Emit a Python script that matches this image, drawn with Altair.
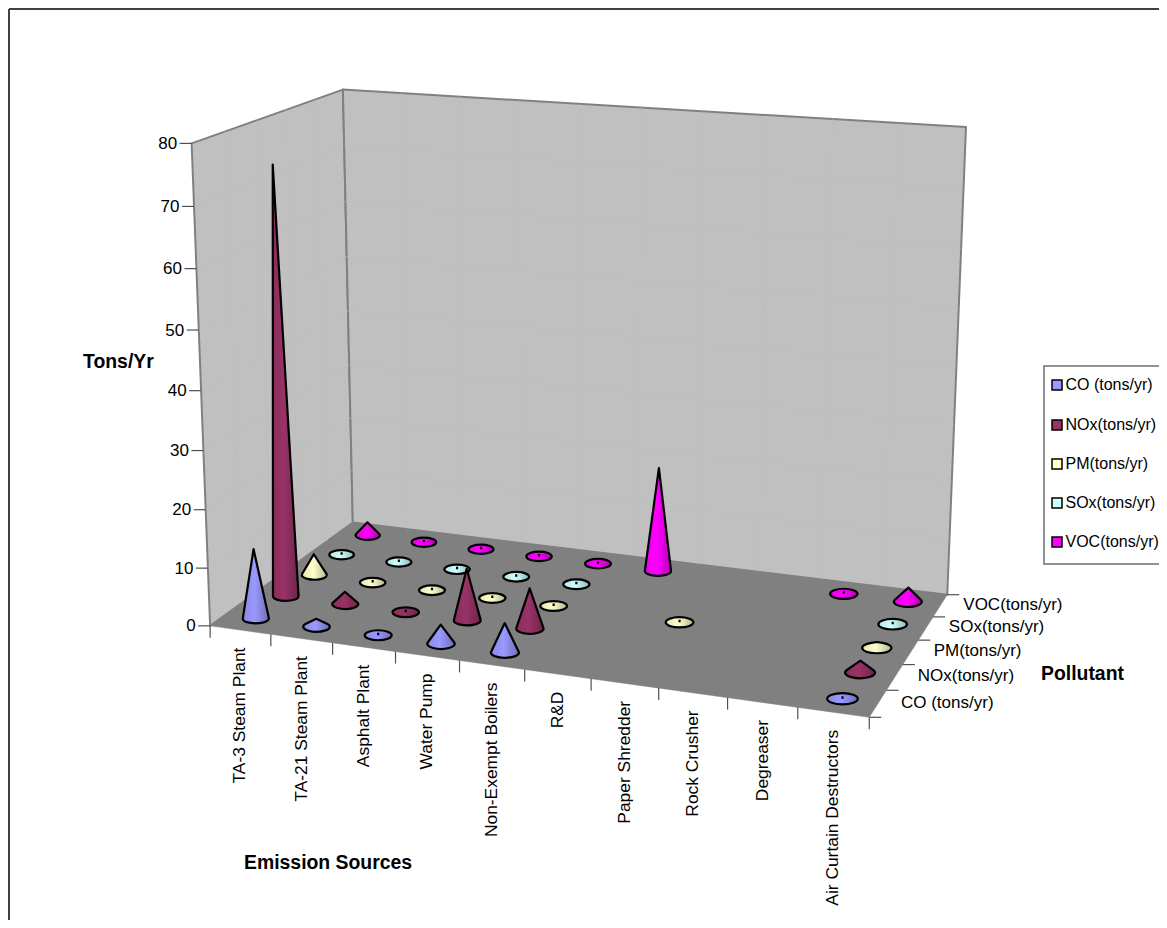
import math
import numpy as np
import pandas as pd
import altair as alt

sources = ["TA-3 Steam Plant", "TA-21 Steam Plant", "Asphalt Plant", "Water Pump",
           "Non-Exempt Boilers", "R&D", "Paper Shredder", "Rock Crusher", "Degreaser",
           "Air Curtain Destructors"]
pollutants = ["CO (tons/yr)", "NOx(tons/yr)", "PM(tons/yr)", "SOx(tons/yr)", "VOC(tons/yr)"]
legend_names = pollutants
colors = ["#9999FF", "#993366", "#FFFFCC", "#CCFFFF", "#FF00FF"]

co = [12.1, 1.4, 0.1, 3.3, 5.0, None, None, None, None, 0.2]
nox = [74.0, 2.2, 0.1, 9.0, 7.0, None, None, None, None, 2.0]
pm = [3.8, 0.1, 0.1, 0.1, 0.1, None, 0.1, None, None, 1.0]
sox = [0.1, 0.1, 0.1, 0.1, 0.1, None, None, None, None, 0.1]
voc = [2.5, 0.1, 0.1, 0.1, 0.1, 18.7, None, None, 0.1, 2.5]
series = [co, nox, pm, sox, voc]

value_ticks = [0, 10, 20, 30, 40, 50, 60, 70, 80]

# camera: box corners (category, pollutant, value) -> screen pixel
box_corners = [((0, 0, 0), (210.5, 626.5)), ((10, 0, 0), (869, 717)), ((10, 5, 0), (947.5, 595)),
               ((0, 5, 0), (352.5, 522)), ((0, 0, 80), (191.5, 143)), ((0, 5, 80), (343, 90)),
               ((10, 5, 80), (966, 127))]
A = []
for (c, s, v), (u, w) in box_corners:
    A.append([c, s, v, 1, 0, 0, 0, 0, -u * c, -u * s, -u * v, -u])
    A.append([0, 0, 0, 0, c, s, v, 1, -w * c, -w * s, -w * v, -w])
CAM = np.linalg.svd(np.array(A, float))[2][-1].reshape(3, 4)


def P(c, s, v=0):
    q = CAM @ np.array([c, s, v, 1.0])
    return float(q[0] / q[2]), float(q[1] / q[2])


W, H = 1151, 912
xs = alt.Scale(domain=[8, 8 + W], nice=False, zero=False)
ys = alt.Scale(domain=[8 + H, 8], nice=False, zero=False)
X = alt.X("x:Q", scale=xs, axis=None)
Y = alt.Y("y:Q", scale=ys, axis=None)
FONT = "Liberation Sans"


def poly(points, fill, stroke, sw):
    x0, y0 = points[0]
    d = "M0 0 " + " ".join(f"L{x - x0:.2f} {y - y0:.2f}" for x, y in points[1:]) + " Z"
    return alt.Chart(pd.DataFrame([{"x": x0, "y": y0, "p": d}])).mark_point(
        filled=True, fill=fill, stroke=stroke, strokeWidth=sw, opacity=1, strokeJoin="round"
    ).encode(x=X, y=Y, shape=alt.Shape("p:N", scale=None), size=alt.value(4))


def segs(rows, color, width):
    df = pd.DataFrame([{"x": a[0], "y": a[1], "x2": b[0], "y2": b[1]} for a, b in rows])
    return alt.Chart(df).mark_rule(color=color, strokeWidth=width).encode(
        x=X, y=Y, x2="x2:Q", y2="y2:Q")


def text(rows, size=17, bold=False, **kw):
    return alt.Chart(pd.DataFrame(rows)).mark_text(
        font=FONT, fontSize=size, fontWeight="bold" if bold else "normal", color="#000000", **kw
    ).encode(x=X, y=Y, text="t:N")


def cone_path(c, s, v):
    bx, by = P(c, s, 0)
    ax, ay = P(c, s, v)
    ax, ay = ax - bx, ay - by
    l0 = P(c - 0.5, s, 0)
    r0 = P(c + 0.5, s, 0)
    rx = 0.215 * math.hypot(r0[0] - l0[0], r0[1] - l0[1])
    ry = 0.37 * rx
    cy = ay * rx / ry
    d = math.hypot(ax, cy)
    if d <= rx * 1.02:
        ay = min(ay, -2.5)
        return (bx, by, f"M{-rx:.2f} 0 A{rx:.2f} {ry:.2f} 0 1 1 {rx:.2f} 0 "
                        f"A{rx:.2f} {ry:.2f} 0 1 1 {-rx:.2f} 0 Z M0 0 L{ax:.2f} {ay:.2f}")
    a = math.atan2(cy, ax)
    b = math.acos(rx / d)
    x1, y1 = rx * math.cos(a - b), ry * math.sin(a - b)
    x2, y2 = rx * math.cos(a + b), ry * math.sin(a + b)
    return (bx, by, f"M{x1:.2f} {y1:.2f} L{ax:.2f} {ay:.2f} L{x2:.2f} {y2:.2f} "
                    f"A{rx:.2f} {ry:.2f} 0 1 1 {x1:.2f} {y1:.2f} Z")


def shade(hexcolor, f):
    r, g, b = [int(hexcolor[i:i + 2], 16) for i in (1, 3, 5)]
    return f"#{int(r * f):02x}{int(g * f):02x}{int(b * f):02x}"


layers = []
# frame
layers.append(segs([((9, 9), (9, 8 + H)), ((9, 9), (8 + W, 9))], "#404040", 2))
# walls and floor
layers.append(poly([P(0, 0, 0), P(0, 5, 0), P(0, 5, 80), P(0, 0, 80)], "#C0C0C0", "#808080", 2))
layers.append(poly([P(0, 5, 0), P(10, 5, 0), P(10, 5, 80), P(0, 5, 80)], "#C0C0C0", "#808080", 2))
layers.append(poly([P(0, 0, 0), P(10, 0, 0), P(10, 5, 0), P(0, 5, 0)], "#808080", "#808080", 0.5))
# faint grid
grid = []
for v in value_ticks[1:-1]:
    grid += [(P(0, 0, v), P(0, 5, v)), (P(0, 5, v), P(10, 5, v))]
for c in range(1, 10):
    grid.append((P(c, 5, 0), P(c, 5, 80)))
for s in range(1, 5):
    grid.append((P(0, s, 0), P(0, s, 80)))
layers.append(segs(grid, "#BCBCBC", 0.6))
fgrid = [(P(c, 0), P(c, 5)) for c in range(1, 10)] + [(P(0, s), P(10, s)) for s in range(1, 5)]
layers.append(segs(fgrid, "#848484", 0.6))

# ticks
ticks = []
for v in value_ticks:
    p = P(0, 0, v)
    ticks.append((p, (p[0] - 12, p[1])))
for c in range(0, 11):
    p = P(c, 0)
    ticks.append((p, (p[0], p[1] + 12)))
for s in range(0, 6):
    p = P(10, s)
    ticks.append((p, (p[0] + 12, p[1])))
layers.append(segs(ticks, "#505050", 1.2))

# axis labels
layers.append(text([{"x": P(0, 0, v)[0] - 14.5, "y": P(0, 0, v)[1] + 0.5, "t": str(v)} for v in value_ticks],
                   align="right", baseline="middle"))
layers.append(text([{"x": P(i + 0.5, 0)[0], "y": P(i + 0.5, 0)[1] + 17.5, "t": n} for i, n in enumerate(sources)],
                   size=17.4, align="right", baseline="middle", angle=270))
layers.append(text([{"x": P(10, i + 0.5)[0] + 23, "y": P(10, i + 0.5)[1] - 1, "t": n} for i, n in enumerate(pollutants)],
                   align="left", baseline="middle"))
# titles
layers.append(text([{"x": 83, "y": 362, "t": "Tons/Yr"}], size=19.4, bold=True, align="left", baseline="middle"))
layers.append(text([{"x": 244, "y": 863, "t": "Emission Sources"}], size=19.4, bold=True, align="left", baseline="middle"))
layers.append(text([{"x": 1041, "y": 674, "t": "Pollutant"}], size=19.4, bold=True, align="left", baseline="middle"))

# cones, back row first
for si in range(4, -1, -1):
    rows = []
    for ci, v in enumerate(series[si]):
        if v is None:
            continue
        bx, by, d = cone_path(ci + 0.5, si + 0.5, v)
        rows.append({"x": bx, "y": by, "p": d, "source": sources[ci], "value": v})
    grad = alt.Gradient(gradient="linear", x1=0, x2=1, y1=0, y2=0, stops=[
        alt.GradientStop(color=shade(colors[si], 0.9), offset=0),
        alt.GradientStop(color=shade(colors[si], 1.0), offset=0.45),
        alt.GradientStop(color=shade(colors[si], 0.72), offset=1)])
    layers.append(alt.Chart(pd.DataFrame(rows)).mark_point(
        filled=True, fill=grad, stroke="#000000", strokeWidth=2.2, opacity=1, strokeJoin="round"
    ).encode(x=X, y=Y, shape=alt.Shape("p:N", scale=None), size=alt.value(4)))

# legend
legend_y = [385, 425, 464, 503, 542]
layers.append(alt.Chart(pd.DataFrame([{"x": 1044, "x2": 1162, "y": 366, "y2": 564}])).mark_rect(
    fill="#FFFFFF", stroke="#707070", strokeWidth=1.5).encode(x=X, y=Y, x2="x2:Q", y2="y2:Q"))
for yy, col in zip(legend_y, colors):
    layers.append(alt.Chart(pd.DataFrame([{"x": 1057, "y": yy}])).mark_point(
        shape="square", filled=True, fill=col, stroke="#000000", strokeWidth=1.5, opacity=1, size=100
    ).encode(x=X, y=Y))
layers.append(text([{"x": 1065.5, "y": yy, "t": n} for yy, n in zip(legend_y, legend_names)],
                   size=16, align="left", baseline="middle"))

chart = alt.layer(*layers).properties(
    width=W, height=H, padding=0, autosize=alt.AutoSizeParams(type="none"),
    background="#FFFFFF"
).configure_view(stroke=None)

chart.save("out.html", embed_options={"renderer": "svg", "actions": False})
